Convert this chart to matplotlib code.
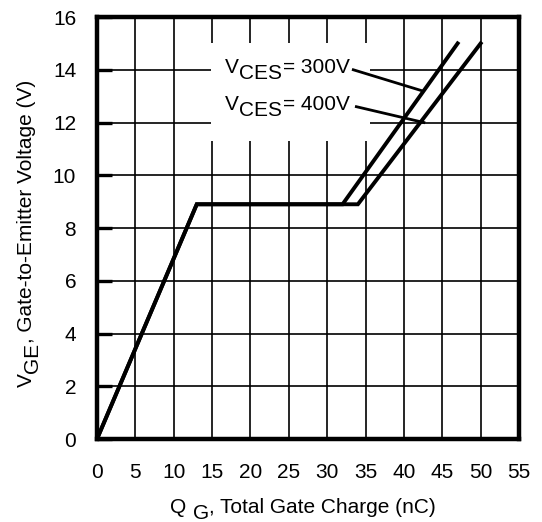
import numpy as np
import matplotlib
matplotlib.use("Agg")
from matplotlib import pyplot as plt
from matplotlib.patches import Rectangle

plt.rcParams['font.family'] = ['Liberation Sans', 'DejaVu Sans']

# gate charge curves
qg_300 = [0, 13, 32, 47]
vge_300 = [0, 8.9, 8.9, 15]
qg_400 = [0, 13, 34, 50]
vge_400 = [0, 8.9, 8.9, 15]

x_ticks = list(range(0, 56, 5))
y_ticks = list(range(0, 17, 2))

labels = ["= 300V", "= 400V"]
label_xy = [(16.7, 13.88), (16.7, 12.47)]
leader_start = [(33.4, 14.0), (33.8, 12.6)]
leader_end = [(42.4, 13.2), (42.6, 12.0)]

FS = 15
SUB = 4.5  # subscript drop, points

fig = plt.figure(figsize=(5.42, 5.22), dpi=100)
ax = fig.add_axes([0.179, 0.159, 0.7786, 0.8084])

ax.set_xlim(0, 55)
ax.set_ylim(0, 16)
ax.set_xticks(x_ticks)
ax.set_yticks(y_ticks)
ax.set_axisbelow(True)
ax.grid(True, color='black', linewidth=1.2)

# white box behind the labels hides the grid
ax.add_patch(Rectangle((14.85, 11.3), 20.75, 3.7, facecolor='white', edgecolor='none', zorder=1))

ax.plot(qg_300, vge_300, color='black', linewidth=2.8, solid_joinstyle='miter', zorder=3)
ax.plot(qg_400, vge_400, color='black', linewidth=2.8, solid_joinstyle='miter', zorder=3)

for lab, (tx, ty), s, e in zip(labels, label_xy, leader_start, leader_end):
    t1 = ax.text(tx, ty, "V", fontsize=FS, va='baseline', ha='left', zorder=4)
    t2 = ax.annotate("CES", xy=(1, 0), xycoords=t1, xytext=(0, -SUB), textcoords='offset points',
                     fontsize=FS, va='bottom', ha='left', zorder=4)
    ax.annotate(lab, xy=(1, 0), xycoords=t2, xytext=(0.5, SUB), textcoords='offset points',
                fontsize=FS, va='bottom', ha='left', zorder=4)
    ax.plot([s[0], e[0]], [s[1], e[1]], color='black', linewidth=2.0, zorder=4)

for sp in ax.spines.values():
    sp.set_linewidth(3.2)

ax.tick_params(axis='y', direction='in', length=11, width=2.4, pad=15, labelsize=FS)
ax.tick_params(axis='x', direction='in', length=0, pad=17, labelsize=FS)

# x label: Q _G, Total Gate Charge (nC)
q = fig.text(170 / 542, 9 / 522, "Q", fontsize=FS, va='baseline', ha='left')
g = ax.annotate("G", xy=(1, 0), xycoords=q, xytext=(5, -4), textcoords='offset points',
                fontsize=FS, va='bottom', ha='left', annotation_clip=False)
ax.annotate(", Total Gate Charge (nC)", xy=(1, 0), xycoords=g, xytext=(0, 4), textcoords='offset points',
            fontsize=FS, va='bottom', ha='left', annotation_clip=False)

# y label: V_GE, Gate-to-Emitter Voltage (V), rotated
v = fig.text(36 / 542, (522 - 387) / 522, "V", fontsize=FS, rotation=90, va='bottom', ha='right')
ge = ax.annotate("GE", xy=(1, 1), xycoords=v, xytext=(SUB, 0), textcoords='offset points',
                 fontsize=FS, rotation=90, va='bottom', ha='right', annotation_clip=False)
ax.annotate(", Gate-to-Emitter Voltage (V)", xy=(1, 1), xycoords=ge, xytext=(-SUB, 0), textcoords='offset points',
            fontsize=FS, rotation=90, va='bottom', ha='right', annotation_clip=False)

fig.savefig("out.png", dpi=100)
